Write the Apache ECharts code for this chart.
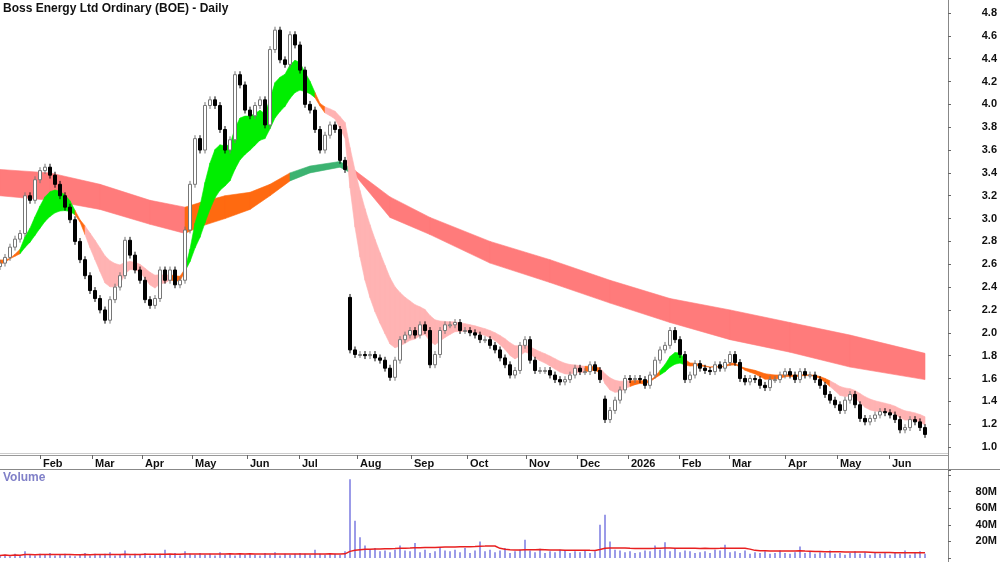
<!DOCTYPE html>
<html><head><meta charset="utf-8">
<script src="https://cdn.jsdelivr.net/npm/echarts@6/dist/echarts.min.js"></script>
<style>html,body{margin:0;padding:0;background:#fff}#c{width:1000px;height:562px}</style>
</head><body><div id="c"></div>
<script>
// closes, one candle per ~2 trading days
const closes = [
2.61,2.66,2.75,2.82,2.87,3.2,3.16,3.34,3.42,3.45,
3.38,3.3,3.2,3.1,2.99,2.8,2.64,2.5,2.37,2.3,
2.2,2.11,2.29,2.4,2.5,2.81,2.68,2.55,2.46,2.29,
2.24,2.3,2.55,2.46,2.55,2.42,2.46,2.9,3.3,3.7,
3.6,3.99,4.04,3.99,3.78,3.6,3.69,4.26,4.17,3.95,
3.9,3.99,4.04,3.82,4.48,4.65,4.39,4.35,4.61,4.52,
4.3,4.0,3.95,3.78,3.6,3.73,3.82,3.78,3.51,3.43,
1.85,1.81,1.81,1.8,1.81,1.78,1.76,1.69,1.61,1.76,
1.94,1.98,2.02,1.98,2.07,2.02,1.72,1.81,2.02,2.07,
2.07,2.09,2.02,2.02,2.0,1.98,1.94,1.94,1.89,1.85,
1.78,1.72,1.63,1.67,1.89,1.94,1.76,1.67,1.67,1.67,
1.63,1.59,1.57,1.59,1.63,1.69,1.66,1.66,1.72,1.67,
1.59,1.24,1.32,1.41,1.5,1.6,1.59,1.6,1.59,1.54,
1.63,1.76,1.85,1.89,2.02,1.94,1.81,1.59,1.63,1.73,
1.69,1.67,1.66,1.72,1.69,1.74,1.81,1.74,1.6,1.57,
1.6,1.59,1.54,1.52,1.59,1.59,1.63,1.66,1.63,1.59,
1.66,1.63,1.63,1.59,1.54,1.46,1.41,1.37,1.32,1.41,
1.46,1.37,1.25,1.22,1.25,1.28,1.31,1.3,1.28,1.24,
1.15,1.17,1.24,1.22,1.17,1.11];
const firstOpen = 2.58;
const openOverrides = {70: 2.31, 121: 1.42};
const volumes = [ // millions
3,4,2,5,3,8,4,3,5,4, 6,3,4,5,3,2,4,6,3,5, 4,5,7,3,4,9,3,5,4,6, 3,4,5,10,4,6,3,8,5,4,
6,4,5,3,7,4,5,3,6,4, 5,4,3,6,4,7,3,5,4,5, 6,5,4,10,5,4,6,5,4,8,
95,45,25,15,10,12,8,9,7,10, 15,9,8,18,7,10,6,8,12,9, 8,10,7,12,6,9,20,8,10,7,
9,12,6,8,10,22,9,7,11,6, 8,7,10,9,6,8,7,9,6,8, 40,52,20,10,9,7,8,6,7,9,
8,15,10,19,8,12,7,9,8,6, 7,8,6,10,9,16,7,8,6,9, 5,7,6,8,5,6,9,6,5,7,
14,6,8,5,7,6,9,5,6,4, 6,8,5,7,4,6,5,7,4,6, 5,9,4,6,8,5];
// long-term band
const longIdx    = [0,10,20,30,37,40,45,50,54,58,62,68,71,78,86,98,110,122,134,146,158,170,185];
const longTop    = [3.43,3.4,3.3,3.16,3.1,3.14,3.2,3.23,3.3,3.4,3.46,3.5,3.42,3.19,3.01,2.8,2.64,2.46,2.3,2.2,2.09,1.98,1.82];
const longBottom = [3.2,3.16,3.08,2.95,2.87,2.93,3.0,3.08,3.2,3.33,3.4,3.45,3.38,3.01,2.86,2.61,2.44,2.26,2.09,1.94,1.83,1.7,1.59];
const longColorIdx=[0,0,0,0,1,1,1,1,1,2,2,2,0,0,0,0,0,0,0,0,0,0,0];
const monthTicks = [8,18.4,28.4,38.4,49.4,59.8,71.4,82.2,93.4,105.2,115.4,125.6,135.8,145.8,157,167.4,177.8];
const monthLabels = ['Feb','Mar','Apr','May','Jun','Jul','Aug','Sep','Oct','Nov','Dec','2026','Feb','Mar','Apr','May','Jun'];

const WICK = 0.03;
const candles = closes.map((c,i)=>{
  const o = openOverrides[i] !== undefined ? openOverrides[i] : (i===0?firstOpen:closes[i-1]);
  return [i,o,c,Math.min(o,c)-WICK,Math.max(o,c)+WICK];
});
// short-term band: EMAs of closes
let f=2.6,s=2.64; const shortF=[],shortS=[];
closes.forEach(c=>{f+=0.235*(c-f); s+=0.11*(c-s); shortF.push(f); shortS.push(s);});
const shortCols=['#00ee00','#ff6a10','#ffb3b3'];
const shortSeg=[];
for(let i=0;i<closes.length-1;i++){
  const d=(shortF[i]+shortF[i+1]-shortS[i]-shortS[i+1])/2;
  const ci = d>0.05?0:(d<-0.055?2:1);
  shortSeg.push([i,Math.min(shortF[i],shortS[i]),Math.max(shortF[i],shortS[i]),i+1,Math.min(shortF[i+1],shortS[i+1]),Math.max(shortF[i+1],shortS[i+1]),ci]);
}
const longCols=['#ff7b7b','#ff6a10','#3cb371'];
const longSeg=[];
for(let k=0;k<longIdx.length-1;k++) longSeg.push([longIdx[k],longBottom[k],longTop[k],longIdx[k+1],longBottom[k+1],longTop[k+1],longColorIdx[k]]);
const volMA=volumes.map((v,i)=>{let a=Math.max(0,i-29),t=0;for(let j=a;j<=i;j++)t+=volumes[j];return [i,t/(i-a+1)*1e6];});

function bandRender(cols){return function(params,api){
  const p=[api.coord([api.value(0),api.value(2)]),api.coord([api.value(3),api.value(5)]),api.coord([api.value(3),api.value(4)]),api.coord([api.value(0),api.value(1)])];
  const col=cols[api.value(6)];
  return {type:'polygon',shape:{points:p},style:{fill:col,stroke:col,lineWidth:0.6}};
};}
const chart=echarts.init(document.getElementById('c'),null,{renderer:'canvas'});
const XMAX=189.6;
const txt={color:'#111',fontWeight:'bold',fontSize:11,fontFamily:'Liberation Sans, Arial'};
chart.setOption({
  animation:false,
  grid:[{left:0,right:52,top:13,height:434},{left:0,right:52,top:470,height:88}],
  graphic:[
    {type:'text',left:3,top:3,style:{text:'Boss Energy Ltd Ordinary (BOE) - Daily',font:'bold 12px Liberation Sans, Arial',fill:'#111'}},
    {type:'text',left:3,top:472,style:{text:'Volume',font:'bold 12px Liberation Sans, Arial',fill:'#8080c8'}},
    {type:'line',shape:{x1:0,y1:469.5,x2:1000,y2:469.5},style:{stroke:'#888',lineWidth:1}},
    {type:'line',shape:{x1:0,y1:453.5,x2:948,y2:453.5},style:{stroke:'#ccc',lineWidth:1}},
    {type:'line',shape:{x1:948.5,y1:0,x2:948.5,y2:562},style:{stroke:'#888',lineWidth:1}}
  ],
  xAxis:[
    {type:'value',gridIndex:0,min:0,max:XMAX,offset:8,splitLine:{show:false},
     axisLine:{show:true,onZero:false,lineStyle:{color:'#999'}},
     axisTick:{show:true,customValues:monthTicks,length:4,lineStyle:{color:'#666'}},
     axisLabel:{customValues:monthTicks,margin:3,align:'left',padding:[0,0,0,3],...txt,
       formatter:v=>{const k=monthTicks.indexOf(v);return k>=0?monthLabels[k]:'';}}},
    {type:'value',gridIndex:1,min:0,max:XMAX,show:false}
  ],
  yAxis:[
    {type:'value',gridIndex:0,position:'right',min:1.0,max:4.8,interval:0.2,splitLine:{show:false},
     axisLine:{show:false,onZero:false},axisTick:{show:true,length:3,lineStyle:{color:'#666'}},
     axisLabel:{...txt,align:'right',margin:49,formatter:v=>v.toFixed(1)}},
    {type:'value',gridIndex:1,position:'right',min:0,max:106e6,interval:20e6,splitLine:{show:false},
     axisLine:{show:false,onZero:false},axisTick:{show:true,length:3,lineStyle:{color:'#666'}},
     axisLabel:{...txt,align:'right',margin:49,formatter:v=>(v>0&&v<100e6)?(v/1e6)+'M':''}}
  ],
  series:[
    {type:'custom',xAxisIndex:0,yAxisIndex:0,data:longSeg,renderItem:bandRender(longCols),encode:{x:[0,3],y:[1,2,4,5]},z:1},
    {type:'custom',xAxisIndex:0,yAxisIndex:0,data:shortSeg,renderItem:bandRender(shortCols),encode:{x:[0,3],y:[1,2,4,5]},z:2},
    {type:'custom',xAxisIndex:0,yAxisIndex:0,data:candles,clip:false,z:3,encode:{x:0,y:[1,2,3,4]},
     renderItem:(params,api)=>{
       const i=api.value(0),o=api.value(1),c=api.value(2),l=api.value(3),h=api.value(4);
       const up=c>=o; const top=api.coord([i,Math.max(o,c)]),bot=api.coord([i,Math.min(o,c)]);
       const hi=api.coord([i,h]),lo=api.coord([i,l]);
       const col=up?'#777':'#000';
       return {type:'group',children:[
         {type:'line',shape:{x1:hi[0],y1:hi[1],x2:lo[0],y2:lo[1]},style:{stroke:col,lineWidth:1}},
         {type:'rect',shape:{x:top[0]-1.5,y:top[1],width:3,height:Math.max(1,bot[1]-top[1])},style:{fill:up?'#fff':'#000',stroke:col,lineWidth:1}}
       ]};
     }},
    {type:'bar',xAxisIndex:1,yAxisIndex:1,data:volumes.map((v,i)=>[i,v*1e6]),barWidth:1.5,itemStyle:{color:'#7a7ae0'},z:2},
    {type:'line',xAxisIndex:1,yAxisIndex:1,data:volMA,showSymbol:false,lineStyle:{color:'#e82020',width:1.5},z:3}
  ]
});
</script></body></html>
